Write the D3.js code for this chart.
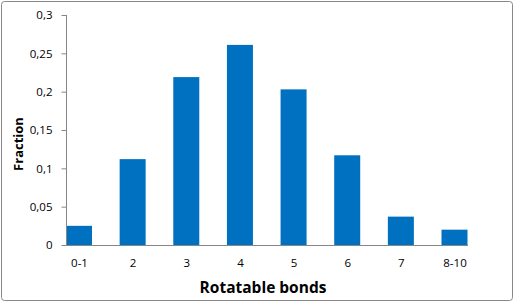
<!DOCTYPE html>
<html>
<head>
<meta charset="utf-8">
<script src="https://cdn.jsdelivr.net/npm/d3@7"></script>
<style>
  body { margin: 0; background: #fff; }
  text { font-family: "Open Sans", "Noto Sans", sans-serif; fill: #000; }
</style>
</head>
<body>
<script>
//chart data
var categories = ["0-1", "2", "3", "4", "5", "6", "7", "8-10"];
var fractions = [0.025, 0.112, 0.219, 0.261, 0.203, 0.117, 0.037, 0.02];
var yTicks = [0, 0.05, 0.1, 0.15, 0.2, 0.25, 0.3];
var yTickLabels = ["0", "0,05", "0,1", "0,15", "0,2", "0,25", "0,3"];

var width = 514,
    height = 302;

var svg = d3.select("body")
    .append("svg")
    .attr("width", width)
    .attr("height", height);

//outer chart border
svg.append("rect")
    .attr("x", 1.5).attr("y", 1.5)
    .attr("width", width - 3).attr("height", height - 3)
    .attr("rx", 3)
    .attr("fill", "#fff")
    .attr("stroke", "#888")
    .attr("stroke-width", 1);

var x = d3.scalePoint()
    .domain(categories)
    .range([79, 454.5]);

var y = d3.scaleLinear()
    .domain([0, 0.3])
    .range([245, 15]);

var barWidth = 26;

//bars
svg.selectAll(".bar")
    .data(fractions)
    .enter()
    .append("rect")
    .attr("class", "bar")
    .attr("x", function(d, i) { return x(categories[i]) - barWidth / 2; })
    .attr("y", function(d) { return y(d); })
    .attr("width", barWidth)
    .attr("height", function(d) { return y(0) - y(d); })
    .attr("fill", "#0070C0");

//y axis
var yAxis = svg.append("g")
    .attr("transform", "translate(66.5,0)")
    .call(d3.axisLeft(y)
        .tickValues(yTicks)
        .tickSize(5)
        .tickPadding(9)
        .tickFormat(function(d, i) { return yTickLabels[i]; }));
yAxis.select(".domain").attr("stroke", "#868686").attr("d", "M0," + y(0.3) + "V" + y(0));
yAxis.selectAll(".tick line").attr("stroke", "#868686");
yAxis.selectAll(".tick text").attr("font-size", 11.5).attr("font-family", "Open Sans, sans-serif");

//x axis
var xAxis = svg.append("g")
    .attr("transform", "translate(0," + (y(0) + 0.5) + ")")
    .call(d3.axisBottom(x).tickSize(0).tickPadding(13));
xAxis.select(".domain").attr("stroke", "#868686").attr("d", "M66,0H468");
xAxis.selectAll(".tick text").attr("font-size", 11.5).attr("font-family", "Open Sans, sans-serif");

//axis titles
svg.append("text")
    .attr("x", 263)
    .attr("y", 293)
    .attr("text-anchor", "middle")
    .attr("font-size", 15.5)
    .attr("font-weight", "bold")
    .text("Rotatable bonds");

svg.append("text")
    .attr("transform", "translate(23,144) rotate(-90)")
    .attr("text-anchor", "middle")
    .attr("font-size", 13)
    .attr("font-weight", "bold")
    .text("Fraction");
</script>
</body>
</html>
